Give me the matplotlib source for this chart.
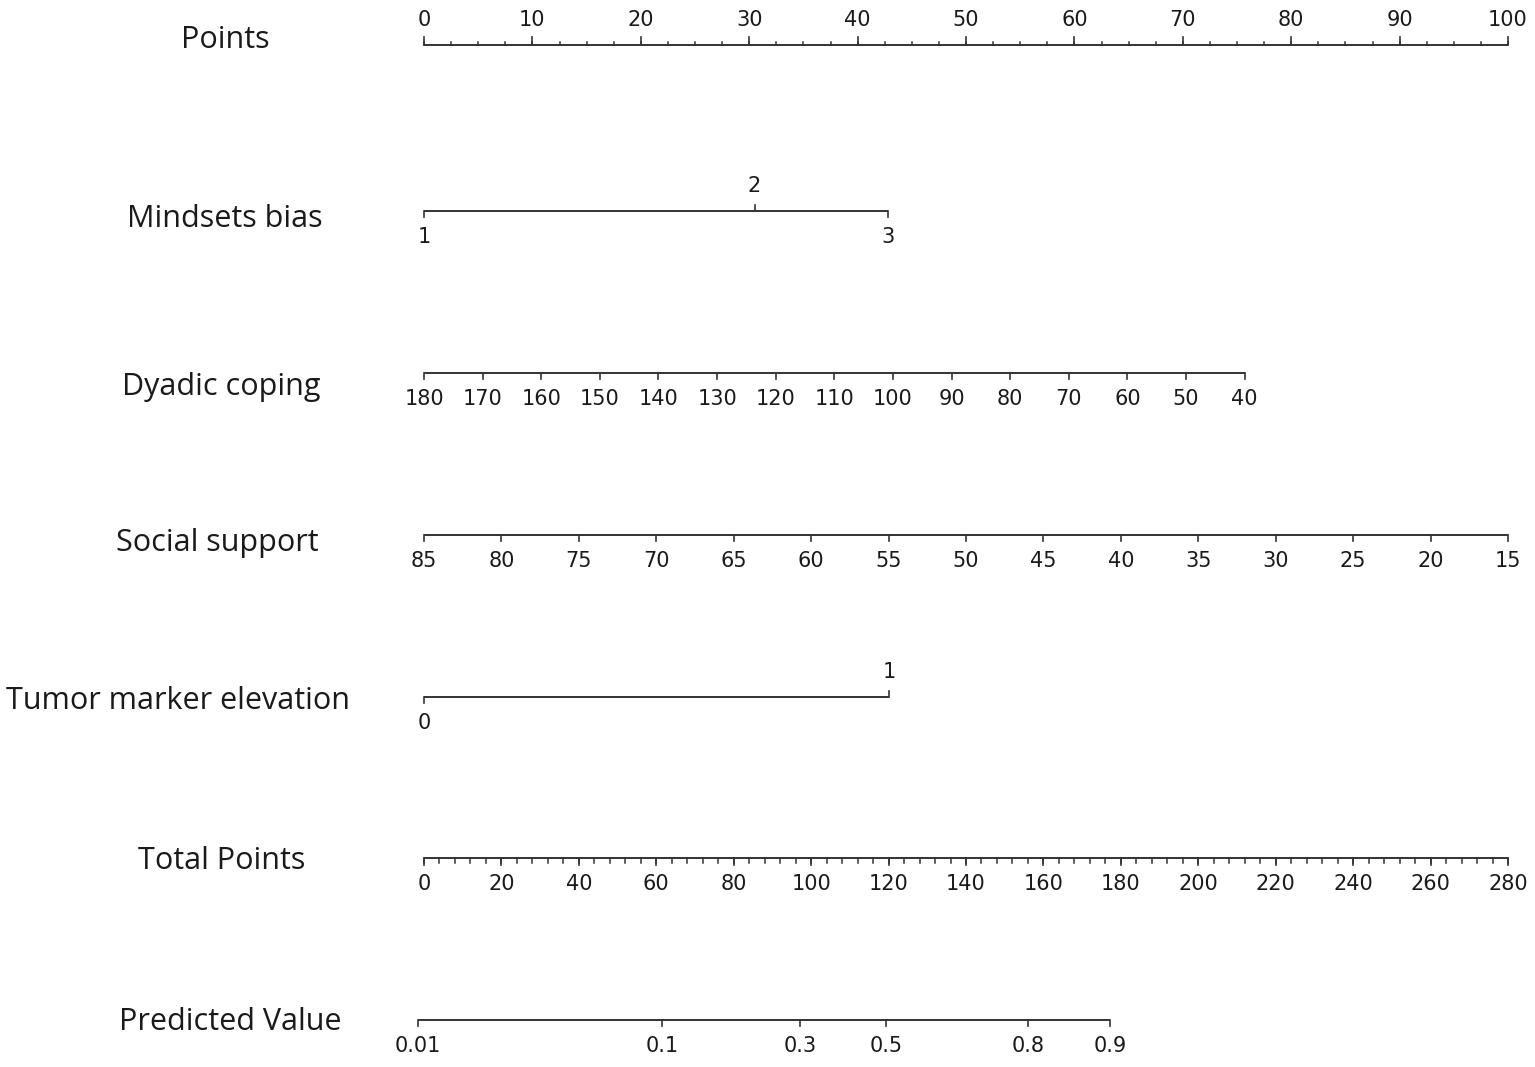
import numpy as np
import matplotlib
matplotlib.use("Agg")
import matplotlib.pyplot as plt

# scale values and their positions on the Points axis (0-100)
points_ticks = np.arange(0, 101, 10)
points_minor = np.arange(0, 100.1, 2.5)

mindset_vals = ["1", "2", "3"]
mindset_pts = [0.0, 30.5, 42.8]
mindset_side = ["down", "up", "down"]

dyadic_vals = list(range(180, 39, -10))
dyadic_pts = list(np.linspace(0, 75.7, len(dyadic_vals)))

social_vals = list(range(85, 14, -5))
social_pts = list(np.linspace(0, 100, len(social_vals)))

tumor_vals = ["0", "1"]
tumor_pts = [0.0, 42.9]
tumor_side = ["down", "up"]

total_ticks = np.arange(0, 281, 20)
total_minor = np.arange(0, 281, 4)
total_max = 280

pred_vals = ["0.01", "0.1", "0.3", "0.5", "0.8", "0.9"]
pred_total = [-1.55, 61.5, 97.1, 119.3, 156.0, 177.2]

row_names = ["Points", "Mindsets bias", "Dyadic coping", "Social support",
             "Tumor marker elevation", "Total Points", "Predicted Value"]
row_y = [45, 211, 373, 535, 697, 858, 1020]
label_x = [225, 225, 221, 217, 178, 222, 230]
label_y = [40, 219, 387, 543, 701, 861, 1022]

W, H = 1535, 1067
px_per_pt = 10.84
x0 = 424

fig = plt.figure(figsize=(W / 100, H / 100), dpi=100)
ax = fig.add_axes([0, 0, 1, 1])
ax.set_xlim(-x0 / px_per_pt, (W - x0) / px_per_pt)
ax.set_ylim(H, 0)
ax.axis("off")

lc = "#333333"
tick_font = dict(family="DejaVu Sans", fontsize=15, color="#1a1a1a")
lab_font = dict(family=["Open Sans", "DejaVu Sans"], fontsize=22, color="#1a1a1a")
tl = 6


def draw_scale(y, pos, labels, sides, ticklen=tl, minor=None, minor_len=3):
    ax.plot([min(pos), max(pos)], [y, y], color=lc, lw=1.4, solid_capstyle="butt")
    if minor is not None:
        for m in minor:
            d = -minor_len if sides[0] == "up" else minor_len
            ax.plot([m, m], [y, y + d], color=lc, lw=1.1)
    for p, t, s in zip(pos, labels, sides):
        d = -ticklen if s == "up" else ticklen
        ax.plot([p, p], [y, y + d], color=lc, lw=1.2)
        if s == "up":
            ax.text(p, y - 25, t, ha="center", va="center", **tick_font)
        else:
            ax.text(p, y + 26, t, ha="center", va="center", **tick_font)


# Points
draw_scale(row_y[0], list(points_ticks), [str(v) for v in points_ticks],
           ["up"] * len(points_ticks), ticklen=8, minor=points_minor, minor_len=3)
# Mindsets bias
draw_scale(row_y[1], mindset_pts, mindset_vals, mindset_side)
# Dyadic coping
draw_scale(row_y[2], dyadic_pts, [str(v) for v in dyadic_vals], ["down"] * len(dyadic_vals))
# Social support
draw_scale(row_y[3], social_pts, [str(v) for v in social_vals], ["down"] * len(social_vals))
# Tumor marker elevation
draw_scale(row_y[4], tumor_pts, tumor_vals, tumor_side)
# Total Points
tot_scale = 100 / total_max
draw_scale(row_y[5], list(total_ticks * tot_scale), [str(v) for v in total_ticks],
           ["down"] * len(total_ticks), ticklen=7,
           minor=total_minor * tot_scale, minor_len=5)
# Predicted Value
draw_scale(row_y[6], [v * tot_scale for v in pred_total], pred_vals, ["down"] * len(pred_vals))

for name, lx, ly in zip(row_names, label_x, label_y):
    ax.text((lx - x0) / px_per_pt, ly, name, ha="center", va="center", **lab_font)

fig.savefig("out.png", dpi=100, facecolor="white")
